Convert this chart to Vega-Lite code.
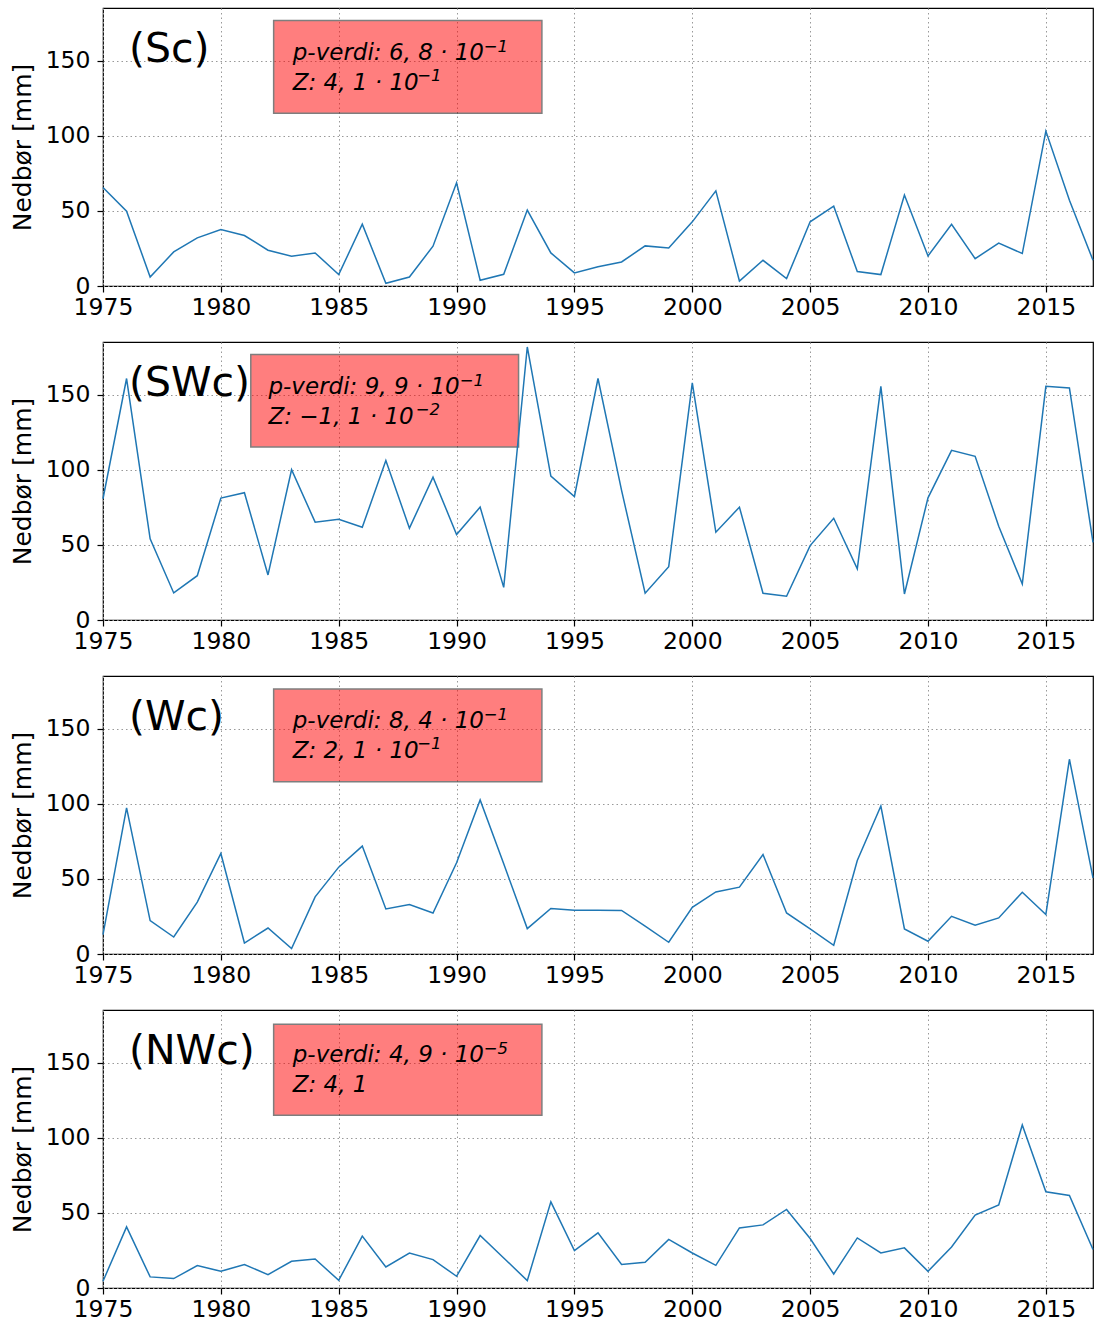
{
"$schema":"https://vega.github.io/schema/vega-lite/v6.json",
"background":"white",
"padding":{"left":9,"top":7,"right":0,"bottom":0},
"bounds":"flush",
"spacing":56,
"config":{
 "view":{"stroke":"black","strokeWidth":1.2},
 "axis":{"labelFont":"DejaVu Sans","labelFontSize":23.5,"labelColor":"black","titleFont":"DejaVu Sans","titleFontSize":25,"titleFontWeight":"normal","titleColor":"black","tickColor":"black","tickSize":6,"tickWidth":1.2,"domain":false,"grid":true,"gridColor":"#999999","gridDash":[1.5,3],"gridWidth":1},
 "axisX":{"labelPadding":3,"labelFlush":false},
 "axisY":{"labelPadding":7,"titlePadding":10},
 "text":{"font":"DejaVu Sans","color":"black"}
},
"datasets":{"d":[
{"p":"Sc","k":"s","x":1975,"y":65.6},{"p":"Sc","k":"s","x":1976,"y":49.8},{"p":"Sc","k":"s","x":1977,"y":6},{"p":"Sc","k":"s","x":1978,"y":22.7},{"p":"Sc","k":"s","x":1979,"y":32},{"p":"Sc","k":"s","x":1980,"y":37.6},{"p":"Sc","k":"s","x":1981,"y":33.6},{"p":"Sc","k":"s","x":1982,"y":23.8},{"p":"Sc","k":"s","x":1983,"y":19.8},{"p":"Sc","k":"s","x":1984,"y":22},{"p":"Sc","k":"s","x":1985,"y":7.6},{"p":"Sc","k":"s","x":1986,"y":41.1},{"p":"Sc","k":"s","x":1987,"y":1.8},{"p":"Sc","k":"s","x":1988,"y":6},{"p":"Sc","k":"s","x":1989,"y":26.5},{"p":"Sc","k":"s","x":1990,"y":68.7},{"p":"Sc","k":"s","x":1991,"y":3.8},{"p":"Sc","k":"s","x":1992,"y":7.8},{"p":"Sc","k":"s","x":1993,"y":50.5},{"p":"Sc","k":"s","x":1994,"y":22},{"p":"Sc","k":"s","x":1995,"y":8.7},{"p":"Sc","k":"s","x":1996,"y":12.8},{"p":"Sc","k":"s","x":1997,"y":16},{"p":"Sc","k":"s","x":1998,"y":26.7},{"p":"Sc","k":"s","x":1999,"y":25.3},{"p":"Sc","k":"s","x":2000,"y":42.7},{"p":"Sc","k":"s","x":2001,"y":63.3},{"p":"Sc","k":"s","x":2002,"y":3.3},{"p":"Sc","k":"s","x":2003,"y":17.1},{"p":"Sc","k":"s","x":2004,"y":4.9},{"p":"Sc","k":"s","x":2005,"y":42.7},{"p":"Sc","k":"s","x":2006,"y":53.1},{"p":"Sc","k":"s","x":2007,"y":9.6},{"p":"Sc","k":"s","x":2008,"y":7.6},{"p":"Sc","k":"s","x":2009,"y":60.5},{"p":"Sc","k":"s","x":2010,"y":20},{"p":"Sc","k":"s","x":2011,"y":41.1},{"p":"Sc","k":"s","x":2012,"y":18.2},{"p":"Sc","k":"s","x":2013,"y":28.5},{"p":"Sc","k":"s","x":2014,"y":21.6},{"p":"Sc","k":"s","x":2015,"y":103.1},{"p":"Sc","k":"s","x":2016,"y":57.1},{"p":"Sc","k":"s","x":2017,"y":17.1},
{"p":"Sc","k":"box","x":1982.24,"x2":1993.62,"y":176.7,"y2":114.9},
{"p":"Sc","k":"lab","x":1976.1,"y":149,"t":"(Sc)"},
{"p":"Sc","k":"txt","x":1983.05,"y":150.2,"t":"p-verdi: 6, 8 · 10"},
{"p":"Sc","k":"sup","x":1991.15,"y":156,"t":"−1"},
{"p":"Sc","k":"txt","x":1983.05,"y":130.7,"t":"Z: 4, 1 · 10"},
{"p":"Sc","k":"sup","x":1988.33,"y":136.5,"t":"−1"},
{"p":"SWc","k":"s","x":1975,"y":80.7},{"p":"SWc","k":"s","x":1976,"y":160.7},{"p":"SWc","k":"s","x":1977,"y":54},{"p":"SWc","k":"s","x":1978,"y":18},{"p":"SWc","k":"s","x":1979,"y":29.5},{"p":"SWc","k":"s","x":1980,"y":81.1},{"p":"SWc","k":"s","x":1981,"y":84.7},{"p":"SWc","k":"s","x":1982,"y":30},{"p":"SWc","k":"s","x":1983,"y":100},{"p":"SWc","k":"s","x":1984,"y":65.1},{"p":"SWc","k":"s","x":1985,"y":67.1},{"p":"SWc","k":"s","x":1986,"y":61.7},{"p":"SWc","k":"s","x":1987,"y":106.2},{"p":"SWc","k":"s","x":1988,"y":61.1},{"p":"SWc","k":"s","x":1989,"y":95.1},{"p":"SWc","k":"s","x":1990,"y":56.9},{"p":"SWc","k":"s","x":1991,"y":75.1},{"p":"SWc","k":"s","x":1992,"y":21.7},{"p":"SWc","k":"s","x":1993,"y":181.7},{"p":"SWc","k":"s","x":1994,"y":95.7},{"p":"SWc","k":"s","x":1995,"y":82.2},{"p":"SWc","k":"s","x":1996,"y":160.7},{"p":"SWc","k":"s","x":1997,"y":86.2},{"p":"SWc","k":"s","x":1998,"y":17.8},{"p":"SWc","k":"s","x":1999,"y":35.5},{"p":"SWc","k":"s","x":2000,"y":157.8},{"p":"SWc","k":"s","x":2001,"y":58.4},{"p":"SWc","k":"s","x":2002,"y":75.1},{"p":"SWc","k":"s","x":2003,"y":17.8},{"p":"SWc","k":"s","x":2004,"y":15.8},{"p":"SWc","k":"s","x":2005,"y":49.5},{"p":"SWc","k":"s","x":2006,"y":67.7},{"p":"SWc","k":"s","x":2007,"y":34},{"p":"SWc","k":"s","x":2008,"y":155.5},{"p":"SWc","k":"s","x":2009,"y":17.3},{"p":"SWc","k":"s","x":2010,"y":81.3},{"p":"SWc","k":"s","x":2011,"y":112.9},{"p":"SWc","k":"s","x":2012,"y":108.9},{"p":"SWc","k":"s","x":2013,"y":62.4},{"p":"SWc","k":"s","x":2014,"y":24},{"p":"SWc","k":"s","x":2015,"y":155.5},{"p":"SWc","k":"s","x":2016,"y":154.4},{"p":"SWc","k":"s","x":2017,"y":51.7},
{"p":"SWc","k":"box","x":1981.27,"x2":1992.63,"y":176.7,"y2":115.1},
{"p":"SWc","k":"lab","x":1976.1,"y":149,"t":"(SWc)"},
{"p":"SWc","k":"txt","x":1982.02,"y":150.2,"t":"p-verdi: 9, 9 · 10"},
{"p":"SWc","k":"sup","x":1990.13,"y":156,"t":"−1"},
{"p":"SWc","k":"txt","x":1982.02,"y":130.7,"t":"Z: −1, 1 · 10"},
{"p":"SWc","k":"sup","x":1988.27,"y":136.5,"t":"−2"},
{"p":"Wc","k":"s","x":1975,"y":12.9},{"p":"Wc","k":"s","x":1976,"y":97.3},{"p":"Wc","k":"s","x":1977,"y":22.2},{"p":"Wc","k":"s","x":1978,"y":11.3},{"p":"Wc","k":"s","x":1979,"y":34.5},{"p":"Wc","k":"s","x":1980,"y":66.9},{"p":"Wc","k":"s","x":1981,"y":7.3},{"p":"Wc","k":"s","x":1982,"y":17.3},{"p":"Wc","k":"s","x":1983,"y":3.6},{"p":"Wc","k":"s","x":1984,"y":38},{"p":"Wc","k":"s","x":1985,"y":57.8},{"p":"Wc","k":"s","x":1986,"y":71.8},{"p":"Wc","k":"s","x":1987,"y":30},{"p":"Wc","k":"s","x":1988,"y":32.9},{"p":"Wc","k":"s","x":1989,"y":27.3},{"p":"Wc","k":"s","x":1990,"y":60.7},{"p":"Wc","k":"s","x":1991,"y":102.5},{"p":"Wc","k":"s","x":1992,"y":60},{"p":"Wc","k":"s","x":1993,"y":16.9},{"p":"Wc","k":"s","x":1994,"y":30.3},{"p":"Wc","k":"s","x":1995,"y":29.1},{"p":"Wc","k":"s","x":1996,"y":29.1},{"p":"Wc","k":"s","x":1997,"y":29},{"p":"Wc","k":"s","x":1998,"y":18.5},{"p":"Wc","k":"s","x":1999,"y":7.8},{"p":"Wc","k":"s","x":2000,"y":31.1},{"p":"Wc","k":"s","x":2001,"y":41.3},{"p":"Wc","k":"s","x":2002,"y":44.5},{"p":"Wc","k":"s","x":2003,"y":66.2},{"p":"Wc","k":"s","x":2004,"y":27.3},{"p":"Wc","k":"s","x":2005,"y":16.7},{"p":"Wc","k":"s","x":2006,"y":5.8},{"p":"Wc","k":"s","x":2007,"y":62.2},{"p":"Wc","k":"s","x":2008,"y":98.5},{"p":"Wc","k":"s","x":2009,"y":16.7},{"p":"Wc","k":"s","x":2010,"y":8.5},{"p":"Wc","k":"s","x":2011,"y":25.1},{"p":"Wc","k":"s","x":2012,"y":19.1},{"p":"Wc","k":"s","x":2013,"y":24},{"p":"Wc","k":"s","x":2014,"y":41.1},{"p":"Wc","k":"s","x":2015,"y":26.3},{"p":"Wc","k":"s","x":2016,"y":129.6},{"p":"Wc","k":"s","x":2017,"y":50.7},
{"p":"Wc","k":"box","x":1982.24,"x2":1993.62,"y":176.3,"y2":114.7},
{"p":"Wc","k":"lab","x":1976.1,"y":149,"t":"(Wc)"},
{"p":"Wc","k":"txt","x":1983.05,"y":150.2,"t":"p-verdi: 8, 4 · 10"},
{"p":"Wc","k":"sup","x":1991.15,"y":156,"t":"−1"},
{"p":"Wc","k":"txt","x":1983.05,"y":130.7,"t":"Z: 2, 1 · 10"},
{"p":"Wc","k":"sup","x":1988.33,"y":136.5,"t":"−1"},
{"p":"NWc","k":"s","x":1975,"y":4.5},{"p":"NWc","k":"s","x":1976,"y":40.7},{"p":"NWc","k":"s","x":1977,"y":7.4},{"p":"NWc","k":"s","x":1978,"y":6.3},{"p":"NWc","k":"s","x":1979,"y":14.9},{"p":"NWc","k":"s","x":1980,"y":11.1},{"p":"NWc","k":"s","x":1981,"y":15.6},{"p":"NWc","k":"s","x":1982,"y":8.9},{"p":"NWc","k":"s","x":1983,"y":17.8},{"p":"NWc","k":"s","x":1984,"y":19.3},{"p":"NWc","k":"s","x":1985,"y":5.1},{"p":"NWc","k":"s","x":1986,"y":34.5},{"p":"NWc","k":"s","x":1987,"y":14},{"p":"NWc","k":"s","x":1988,"y":23.3},{"p":"NWc","k":"s","x":1989,"y":18.9},{"p":"NWc","k":"s","x":1990,"y":7.8},{"p":"NWc","k":"s","x":1991,"y":34.9},{"p":"NWc","k":"s","x":1992,"y":20},{"p":"NWc","k":"s","x":1993,"y":4.9},{"p":"NWc","k":"s","x":1994,"y":57.3},{"p":"NWc","k":"s","x":1995,"y":24.9},{"p":"NWc","k":"s","x":1996,"y":36.7},{"p":"NWc","k":"s","x":1997,"y":15.6},{"p":"NWc","k":"s","x":1998,"y":17.1},{"p":"NWc","k":"s","x":1999,"y":32.3},{"p":"NWc","k":"s","x":2000,"y":23.3},{"p":"NWc","k":"s","x":2001,"y":15.1},{"p":"NWc","k":"s","x":2002,"y":40},{"p":"NWc","k":"s","x":2003,"y":42},{"p":"NWc","k":"s","x":2004,"y":52.3},{"p":"NWc","k":"s","x":2005,"y":32.9},{"p":"NWc","k":"s","x":2006,"y":9.3},{"p":"NWc","k":"s","x":2007,"y":33.3},{"p":"NWc","k":"s","x":2008,"y":23.3},{"p":"NWc","k":"s","x":2009,"y":26.7},{"p":"NWc","k":"s","x":2010,"y":11.1},{"p":"NWc","k":"s","x":2011,"y":27.3},{"p":"NWc","k":"s","x":2012,"y":48.5},{"p":"NWc","k":"s","x":2013,"y":55.3},{"p":"NWc","k":"s","x":2014,"y":108.5},{"p":"NWc","k":"s","x":2015,"y":64},{"p":"NWc","k":"s","x":2016,"y":61.6},{"p":"NWc","k":"s","x":2017,"y":25.6},
{"p":"NWc","k":"box","x":1982.24,"x2":1993.62,"y":175.6,"y2":114.9},
{"p":"NWc","k":"lab","x":1976.1,"y":149,"t":"(NWc)"},
{"p":"NWc","k":"txt","x":1983.05,"y":150.2,"t":"p-verdi: 4, 9 · 10"},
{"p":"NWc","k":"sup","x":1991.15,"y":156,"t":"−5"},
{"p":"NWc","k":"txt","x":1983.05,"y":130.7,"t":"Z: 4, 1"}
]},
"vconcat":[
{"width":990,"height":278,"data":{"name":"d"},"transform":[{"filter":"datum.p==='Sc'"}],
 "encoding":{"x":{"field":"x","type":"quantitative","scale":{"domain":[1975,2017],"nice":false,"zero":false},"axis":{"values":[1975,1980,1985,1990,1995,2000,2005,2010,2015],"format":"d","title":null}},
  "y":{"field":"y","type":"quantitative","scale":{"domain":[0,185],"nice":false},"axis":{"values":[0,50,100,150],"title":"Nedbør [mm]"}}},
 "layer":[
  {"transform":[{"filter":"datum.k==='box'"}],"mark":{"type":"rect","fill":"#ff0000","stroke":"#000000","opacity":0.5,"strokeWidth":1.5},"encoding":{"x2":{"field":"x2"},"y2":{"field":"y2"}}},
  {"transform":[{"filter":"datum.k==='s'"}],"mark":{"type":"line","color":"#1f77b4","strokeWidth":1.5}},
  {"transform":[{"filter":"datum.k==='lab'"}],"mark":{"type":"text","align":"left","baseline":"alphabetic","fontSize":41},"encoding":{"text":{"field":"t"}}},
  {"transform":[{"filter":"datum.k==='txt'"}],"mark":{"type":"text","align":"left","baseline":"alphabetic","fontSize":23,"fontStyle":"italic"},"encoding":{"text":{"field":"t"}}},
  {"transform":[{"filter":"datum.k==='sup'"}],"mark":{"type":"text","align":"left","baseline":"alphabetic","fontSize":16.5,"fontStyle":"italic"},"encoding":{"text":{"field":"t"}}}
 ]},
{"width":990,"height":278,"data":{"name":"d"},"transform":[{"filter":"datum.p==='SWc'"}],
 "encoding":{"x":{"field":"x","type":"quantitative","scale":{"domain":[1975,2017],"nice":false,"zero":false},"axis":{"values":[1975,1980,1985,1990,1995,2000,2005,2010,2015],"format":"d","title":null}},
  "y":{"field":"y","type":"quantitative","scale":{"domain":[0,185],"nice":false},"axis":{"values":[0,50,100,150],"title":"Nedbør [mm]"}}},
 "layer":[
  {"transform":[{"filter":"datum.k==='box'"}],"mark":{"type":"rect","fill":"#ff0000","stroke":"#000000","opacity":0.5,"strokeWidth":1.5},"encoding":{"x2":{"field":"x2"},"y2":{"field":"y2"}}},
  {"transform":[{"filter":"datum.k==='s'"}],"mark":{"type":"line","color":"#1f77b4","strokeWidth":1.5}},
  {"transform":[{"filter":"datum.k==='lab'"}],"mark":{"type":"text","align":"left","baseline":"alphabetic","fontSize":41},"encoding":{"text":{"field":"t"}}},
  {"transform":[{"filter":"datum.k==='txt'"}],"mark":{"type":"text","align":"left","baseline":"alphabetic","fontSize":23,"fontStyle":"italic"},"encoding":{"text":{"field":"t"}}},
  {"transform":[{"filter":"datum.k==='sup'"}],"mark":{"type":"text","align":"left","baseline":"alphabetic","fontSize":16.5,"fontStyle":"italic"},"encoding":{"text":{"field":"t"}}}
 ]},
{"width":990,"height":278,"data":{"name":"d"},"transform":[{"filter":"datum.p==='Wc'"}],
 "encoding":{"x":{"field":"x","type":"quantitative","scale":{"domain":[1975,2017],"nice":false,"zero":false},"axis":{"values":[1975,1980,1985,1990,1995,2000,2005,2010,2015],"format":"d","title":null}},
  "y":{"field":"y","type":"quantitative","scale":{"domain":[0,185],"nice":false},"axis":{"values":[0,50,100,150],"title":"Nedbør [mm]"}}},
 "layer":[
  {"transform":[{"filter":"datum.k==='box'"}],"mark":{"type":"rect","fill":"#ff0000","stroke":"#000000","opacity":0.5,"strokeWidth":1.5},"encoding":{"x2":{"field":"x2"},"y2":{"field":"y2"}}},
  {"transform":[{"filter":"datum.k==='s'"}],"mark":{"type":"line","color":"#1f77b4","strokeWidth":1.5}},
  {"transform":[{"filter":"datum.k==='lab'"}],"mark":{"type":"text","align":"left","baseline":"alphabetic","fontSize":41},"encoding":{"text":{"field":"t"}}},
  {"transform":[{"filter":"datum.k==='txt'"}],"mark":{"type":"text","align":"left","baseline":"alphabetic","fontSize":23,"fontStyle":"italic"},"encoding":{"text":{"field":"t"}}},
  {"transform":[{"filter":"datum.k==='sup'"}],"mark":{"type":"text","align":"left","baseline":"alphabetic","fontSize":16.5,"fontStyle":"italic"},"encoding":{"text":{"field":"t"}}}
 ]},
{"width":990,"height":278,"data":{"name":"d"},"transform":[{"filter":"datum.p==='NWc'"}],
 "encoding":{"x":{"field":"x","type":"quantitative","scale":{"domain":[1975,2017],"nice":false,"zero":false},"axis":{"values":[1975,1980,1985,1990,1995,2000,2005,2010,2015],"format":"d","title":null}},
  "y":{"field":"y","type":"quantitative","scale":{"domain":[0,185],"nice":false},"axis":{"values":[0,50,100,150],"title":"Nedbør [mm]"}}},
 "layer":[
  {"transform":[{"filter":"datum.k==='box'"}],"mark":{"type":"rect","fill":"#ff0000","stroke":"#000000","opacity":0.5,"strokeWidth":1.5},"encoding":{"x2":{"field":"x2"},"y2":{"field":"y2"}}},
  {"transform":[{"filter":"datum.k==='s'"}],"mark":{"type":"line","color":"#1f77b4","strokeWidth":1.5}},
  {"transform":[{"filter":"datum.k==='lab'"}],"mark":{"type":"text","align":"left","baseline":"alphabetic","fontSize":41},"encoding":{"text":{"field":"t"}}},
  {"transform":[{"filter":"datum.k==='txt'"}],"mark":{"type":"text","align":"left","baseline":"alphabetic","fontSize":23,"fontStyle":"italic"},"encoding":{"text":{"field":"t"}}},
  {"transform":[{"filter":"datum.k==='sup'"}],"mark":{"type":"text","align":"left","baseline":"alphabetic","fontSize":16.5,"fontStyle":"italic"},"encoding":{"text":{"field":"t"}}}
 ]}
]
}
